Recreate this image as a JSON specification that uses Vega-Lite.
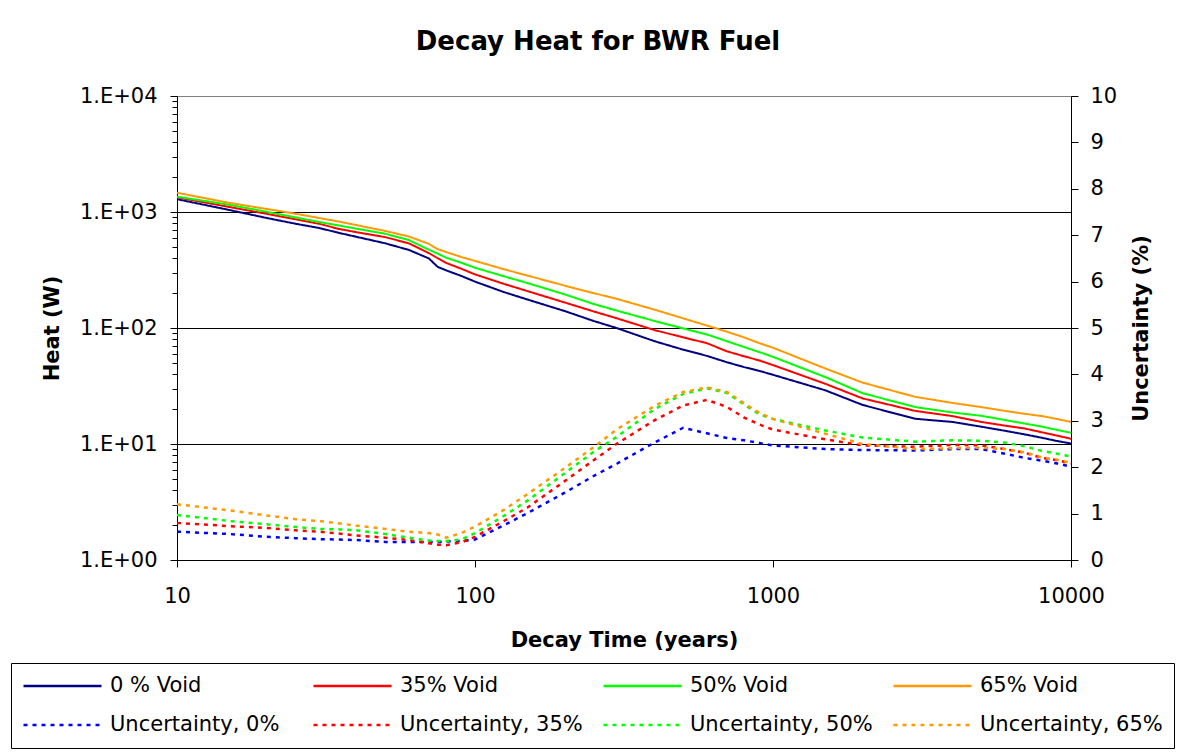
{
  "$schema": "https://vega.github.io/schema/vega-lite/v6.json",
  "width": 894,
  "height": 464,
  "autosize": {"type": "none"},
  "padding": {"left": 177, "top": 96, "right": 116, "bottom": 195},
  "background": "white",
  "title": {"text": "Decay Heat for BWR Fuel", "font": "DejaVu Sans", "fontSize": 26, "fontWeight": "bold", "color": "black", "anchor": "middle", "dx": -26, "offset": 30},
  "data": {"values": [
    {"t": 10, "0 % Void": 1290, "35% Void": 1340, "50% Void": 1355, "65% Void": 1466, "Uncertainty, 0%": 0.61, "Uncertainty, 35%": 0.80, "Uncertainty, 50%": 0.97, "Uncertainty, 65%": 1.20},
    {"t": 15, "0 % Void": 1040, "35% Void": 1104, "50% Void": 1153, "65% Void": 1197, "Uncertainty, 0%": 0.56, "Uncertainty, 35%": 0.73, "Uncertainty, 50%": 0.84, "Uncertainty, 65%": 1.07},
    {"t": 20, "0 % Void": 888, "35% Void": 964, "50% Void": 1003, "65% Void": 1062, "Uncertainty, 0%": 0.50, "Uncertainty, 35%": 0.69, "Uncertainty, 50%": 0.77, "Uncertainty, 65%": 0.96},
    {"t": 25, "0 % Void": 792, "35% Void": 865, "50% Void": 897, "65% Void": 966, "Uncertainty, 0%": 0.47, "Uncertainty, 35%": 0.64, "Uncertainty, 50%": 0.71, "Uncertainty, 65%": 0.88},
    {"t": 30, "0 % Void": 728, "35% Void": 791, "50% Void": 819, "65% Void": 887, "Uncertainty, 0%": 0.45, "Uncertainty, 35%": 0.61, "Uncertainty, 50%": 0.67, "Uncertainty, 65%": 0.84},
    {"t": 35, "0 % Void": 660, "35% Void": 714, "50% Void": 764, "65% Void": 826, "Uncertainty, 0%": 0.44, "Uncertainty, 35%": 0.57, "Uncertainty, 50%": 0.66, "Uncertainty, 65%": 0.79},
    {"t": 40, "0 % Void": 611, "35% Void": 670, "50% Void": 718, "65% Void": 771, "Uncertainty, 0%": 0.43, "Uncertainty, 35%": 0.53, "Uncertainty, 50%": 0.64, "Uncertainty, 65%": 0.74},
    {"t": 50, "0 % Void": 537, "35% Void": 607, "50% Void": 649, "65% Void": 686, "Uncertainty, 0%": 0.39, "Uncertainty, 35%": 0.48, "Uncertainty, 50%": 0.56, "Uncertainty, 65%": 0.67},
    {"t": 60, "0 % Void": 471, "35% Void": 537, "50% Void": 573, "65% Void": 615, "Uncertainty, 0%": 0.39, "Uncertainty, 35%": 0.43, "Uncertainty, 50%": 0.48, "Uncertainty, 65%": 0.61},
    {"t": 70, "0 % Void": 398, "35% Void": 442, "50% Void": 473, "65% Void": 531, "Uncertainty, 0%": 0.39, "Uncertainty, 35%": 0.36, "Uncertainty, 50%": 0.42, "Uncertainty, 65%": 0.58},
    {"t": 75, "0 % Void": 336, "35% Void": 399, "50% Void": 437, "65% Void": 478, "Uncertainty, 0%": 0.39, "Uncertainty, 35%": 0.33, "Uncertainty, 50%": 0.41, "Uncertainty, 65%": 0.55},
    {"t": 80, "0 % Void": 314, "35% Void": 364, "50% Void": 404, "65% Void": 452, "Uncertainty, 0%": 0.40, "Uncertainty, 35%": 0.32, "Uncertainty, 50%": 0.41, "Uncertainty, 65%": 0.48},
    {"t": 90, "0 % Void": 281, "35% Void": 324, "50% Void": 365, "65% Void": 409, "Uncertainty, 0%": 0.41, "Uncertainty, 35%": 0.38, "Uncertainty, 50%": 0.44, "Uncertainty, 65%": 0.58},
    {"t": 100, "0 % Void": 251, "35% Void": 290, "50% Void": 331, "65% Void": 379, "Uncertainty, 0%": 0.44, "Uncertainty, 35%": 0.50, "Uncertainty, 50%": 0.58, "Uncertainty, 65%": 0.72},
    {"t": 125, "0 % Void": 204, "35% Void": 240, "50% Void": 279, "65% Void": 321, "Uncertainty, 0%": 0.75, "Uncertainty, 35%": 0.84, "Uncertainty, 50%": 0.95, "Uncertainty, 65%": 1.08},
    {"t": 150, "0 % Void": 176, "35% Void": 208, "50% Void": 244, "65% Void": 283, "Uncertainty, 0%": 1.01, "Uncertainty, 35%": 1.13, "Uncertainty, 50%": 1.28, "Uncertainty, 65%": 1.42},
    {"t": 200, "0 % Void": 140, "35% Void": 166, "50% Void": 195, "65% Void": 232, "Uncertainty, 0%": 1.45, "Uncertainty, 35%": 1.70, "Uncertainty, 50%": 1.87, "Uncertainty, 65%": 1.98},
    {"t": 250, "0 % Void": 115, "35% Void": 139, "50% Void": 161, "65% Void": 200, "Uncertainty, 0%": 1.81, "Uncertainty, 35%": 2.15, "Uncertainty, 50%": 2.33, "Uncertainty, 65%": 2.43},
    {"t": 300, "0 % Void": 99.6, "35% Void": 121, "50% Void": 141, "65% Void": 178, "Uncertainty, 0%": 2.08, "Uncertainty, 35%": 2.51, "Uncertainty, 50%": 2.66, "Uncertainty, 65%": 2.82},
    {"t": 400, "0 % Void": 77, "35% Void": 96, "50% Void": 115, "65% Void": 144, "Uncertainty, 0%": 2.53, "Uncertainty, 35%": 3.01, "Uncertainty, 50%": 3.25, "Uncertainty, 65%": 3.32},
    {"t": 500, "0 % Void": 65, "35% Void": 83, "50% Void": 99, "65% Void": 121, "Uncertainty, 0%": 2.85, "Uncertainty, 35%": 3.33, "Uncertainty, 50%": 3.58, "Uncertainty, 65%": 3.62},
    {"t": 600, "0 % Void": 57.5, "35% Void": 74, "50% Void": 88, "65% Void": 105, "Uncertainty, 0%": 2.73, "Uncertainty, 35%": 3.45, "Uncertainty, 50%": 3.70, "Uncertainty, 65%": 3.72},
    {"t": 700, "0 % Void": 50.7, "35% Void": 63, "50% Void": 77, "65% Void": 93, "Uncertainty, 0%": 2.63, "Uncertainty, 35%": 3.30, "Uncertainty, 50%": 3.60, "Uncertainty, 65%": 3.62},
    {"t": 800, "0 % Void": 46, "35% Void": 57, "50% Void": 68.5, "65% Void": 83, "Uncertainty, 0%": 2.58, "Uncertainty, 35%": 3.07, "Uncertainty, 50%": 3.35, "Uncertainty, 65%": 3.38},
    {"t": 900, "0 % Void": 42.7, "35% Void": 52.5, "50% Void": 62, "65% Void": 74, "Uncertainty, 0%": 2.52, "Uncertainty, 35%": 2.92, "Uncertainty, 50%": 3.14, "Uncertainty, 65%": 3.17},
    {"t": 1000, "0 % Void": 39.5, "35% Void": 47.9, "50% Void": 56.4, "65% Void": 67.6, "Uncertainty, 0%": 2.47, "Uncertainty, 35%": 2.81, "Uncertainty, 50%": 3.04, "Uncertainty, 65%": 3.04},
    {"t": 1500, "0 % Void": 29, "35% Void": 33, "50% Void": 37.7, "65% Void": 44.7, "Uncertainty, 0%": 2.39, "Uncertainty, 35%": 2.60, "Uncertainty, 50%": 2.79, "Uncertainty, 65%": 2.72},
    {"t": 2000, "0 % Void": 21.7, "35% Void": 24.7, "50% Void": 27.4, "65% Void": 33.8, "Uncertainty, 0%": 2.37, "Uncertainty, 35%": 2.47, "Uncertainty, 50%": 2.64, "Uncertainty, 65%": 2.50},
    {"t": 3000, "0 % Void": 16.5, "35% Void": 19.3, "50% Void": 20.8, "65% Void": 25.5, "Uncertainty, 0%": 2.36, "Uncertainty, 35%": 2.44, "Uncertainty, 50%": 2.55, "Uncertainty, 65%": 2.39},
    {"t": 4000, "0 % Void": 15.5, "35% Void": 17.4, "50% Void": 18.7, "65% Void": 22.6, "Uncertainty, 0%": 2.39, "Uncertainty, 35%": 2.48, "Uncertainty, 50%": 2.58, "Uncertainty, 65%": 2.41},
    {"t": 5000, "0 % Void": 14.1, "35% Void": 15.5, "50% Void": 17.5, "65% Void": 20.8, "Uncertainty, 0%": 2.39, "Uncertainty, 35%": 2.47, "Uncertainty, 50%": 2.57, "Uncertainty, 65%": 2.42},
    {"t": 6000, "0 % Void": 13, "35% Void": 14.4, "50% Void": 16.1, "65% Void": 19.3, "Uncertainty, 0%": 2.29, "Uncertainty, 35%": 2.39, "Uncertainty, 50%": 2.53, "Uncertainty, 65%": 2.39},
    {"t": 7000, "0 % Void": 12.1, "35% Void": 13.6, "50% Void": 15, "65% Void": 18.2, "Uncertainty, 0%": 2.20, "Uncertainty, 35%": 2.31, "Uncertainty, 50%": 2.45, "Uncertainty, 65%": 2.32},
    {"t": 8000, "0 % Void": 11.3, "35% Void": 12.6, "50% Void": 14.1, "65% Void": 17.4, "Uncertainty, 0%": 2.14, "Uncertainty, 35%": 2.20, "Uncertainty, 50%": 2.35, "Uncertainty, 65%": 2.21},
    {"t": 9000, "0 % Void": 10.6, "35% Void": 11.8, "50% Void": 13.2, "65% Void": 16.4, "Uncertainty, 0%": 2.08, "Uncertainty, 35%": 2.15, "Uncertainty, 50%": 2.29, "Uncertainty, 65%": 2.16},
    {"t": 10000, "0 % Void": 10.1, "35% Void": 11.1, "50% Void": 12.5, "65% Void": 15.5, "Uncertainty, 0%": 2.01, "Uncertainty, 35%": 2.08, "Uncertainty, 50%": 2.23, "Uncertainty, 65%": 2.09}
  ]},
  "layer": [
    {
      "transform": [{"fold": ["0 % Void", "35% Void", "50% Void", "65% Void"], "as": ["series", "value"]}],
      "mark": {"type": "line", "strokeWidth": 2},
      "encoding": {
        "x": {"field": "t", "type": "quantitative",
          "scale": {"type": "log", "domain": [10, 10000], "nice": false},
          "axis": {"orient": "bottom", "title": "Decay Time (years)", "values": [10, 100, 1000, 10000], "format": "d", "grid": false,
            "tickSize": 7, "labelPadding": 18, "labelFontSize": 21, "labelFlush": false, "labelOverlap": false,
            "titleFontSize": 21, "titleFontWeight": "bold", "titlePadding": 23}},
        "y": {"field": "value", "type": "quantitative",
          "scale": {"type": "log", "domain": [1, 10000], "nice": false},
          "axis": {"orient": "left", "title": "Heat (W)",
            "values": [1,2,3,4,5,6,7,8,9,10,20,30,40,50,60,70,80,90,100,200,300,400,500,600,700,800,900,1000,2000,3000,4000,5000,6000,7000,8000,9000,10000],
            "labelExpr": "datum.value == 1 ? '1.E+00' : datum.value == 10 ? '1.E+01' : datum.value == 100 ? '1.E+02' : datum.value == 1000 ? '1.E+03' : datum.value == 10000 ? '1.E+04' : ''",
            "labelOverlap": false, "labelFlush": false,
            "tickSize": {"condition": {"test": "indexof([1,10,100,1000,10000], datum.value) >= 0", "value": 7}, "value": 5},
            "grid": true, "gridColor": "black", "gridWidth": 1,
            "gridOpacity": {"condition": {"test": "indexof([10,100,1000], datum.value) >= 0", "value": 1}, "value": 0},
            "labelPadding": 13, "labelFontSize": 21,
            "titleFontSize": 21, "titleFontWeight": "bold", "titlePadding": 17}},
        "color": {"field": "series", "type": "nominal",
          "scale": {"domain": ["0 % Void", "35% Void", "50% Void", "65% Void", "Uncertainty, 0%", "Uncertainty, 35%", "Uncertainty, 50%", "Uncertainty, 65%"],
                    "range": ["#000080", "#ff0000", "#00ff00", "#ff9900", "#0000ff", "#ff0000", "#00ff00", "#ff9900"]},
          "legend": {"title": null, "orient": "none", "legendX": -166, "legendY": 567, "columns": 4, "direction": "horizontal"}},
        "strokeDash": {"field": "series", "type": "nominal",
          "scale": {"domain": ["0 % Void", "35% Void", "50% Void", "65% Void", "Uncertainty, 0%", "Uncertainty, 35%", "Uncertainty, 50%", "Uncertainty, 65%"],
                    "range": [[1, 0], [1, 0], [1, 0], [1, 0], [4, 5], [4, 5], [4, 5], [4, 5]]},
          "legend": {"title": null, "orient": "none", "legendX": -166, "legendY": 567, "columns": 4, "direction": "horizontal"}}
      }
    },
    {
      "transform": [{"fold": ["Uncertainty, 0%", "Uncertainty, 35%", "Uncertainty, 50%", "Uncertainty, 65%"], "as": ["series", "value"]}],
      "mark": {"type": "line", "strokeWidth": 2.5},
      "encoding": {
        "x": {"field": "t", "type": "quantitative", "scale": {"type": "log", "domain": [10, 10000], "nice": false}},
        "y": {"field": "value", "type": "quantitative",
          "scale": {"type": "linear", "domain": [0, 10], "nice": false},
          "axis": {"orient": "right", "title": "Uncertainty (%)", "values": [0,1,2,3,4,5,6,7,8,9,10], "grid": false,
            "tickSize": 7, "labelPadding": 12, "labelFontSize": 21, "labelFlush": false, "labelOverlap": false,
            "titleFontSize": 21, "titleFontWeight": "bold", "titlePadding": 14, "titleAngle": 270, "titleBaseline": "top"}},
        "color": {"field": "series", "type": "nominal"},
        "strokeDash": {"field": "series", "type": "nominal"}
      }
    }
  ],
  "resolve": {"scale": {"y": "independent"}},
  "config": {
    "font": "DejaVu Sans",
    "view": {"stroke": "#808080", "strokeWidth": 1},
    "axis": {"labelColor": "black", "titleColor": "black", "domainColor": "black", "tickColor": "black", "domainWidth": 1, "tickWidth": 1, "labelFont": "DejaVu Sans", "titleFont": "DejaVu Sans"},
    "legend": {"symbolType": "stroke", "symbolSize": 6084, "symbolStrokeWidth": 2.5, "labelFontSize": 21, "labelFont": "DejaVu Sans", "labelColor": "black",
      "labelOffset": 7, "gridAlign": "all", "columnPadding": 19, "rowPadding": 15, "padding": 11, "strokeColor": "black", "fillColor": "white",
      "labelLimit": 400, "clipHeight": 24}
  }
}
